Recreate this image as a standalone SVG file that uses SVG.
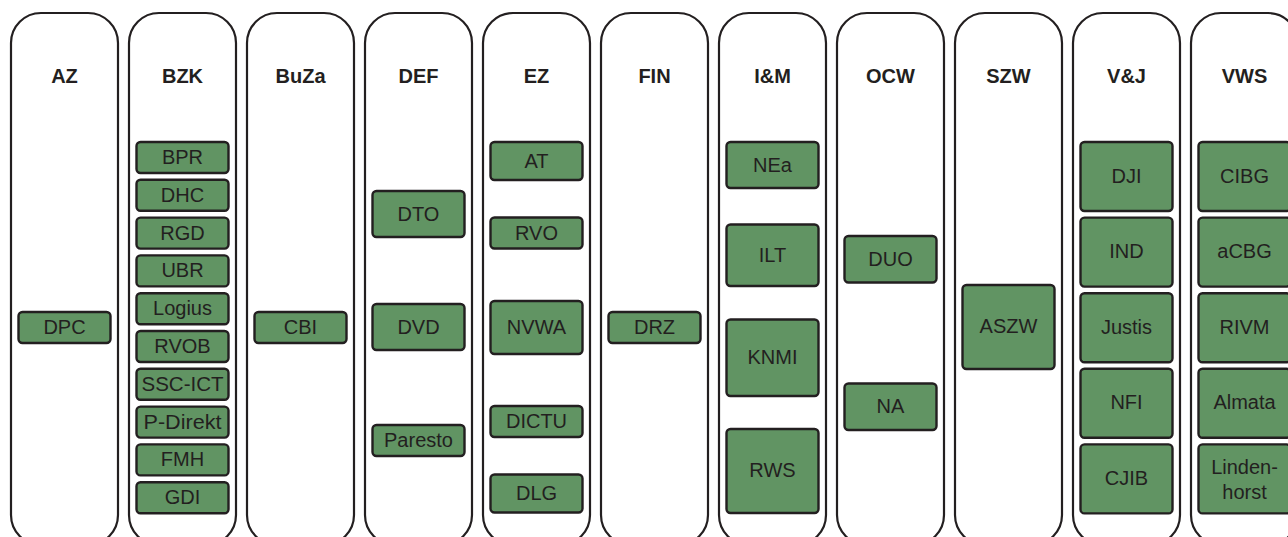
<svg xmlns="http://www.w3.org/2000/svg" width="1288" height="537" viewBox="0 0 1288 537">
<style>
.col{fill:#fff;stroke:#231f20;stroke-width:2.2}
.box{fill:#619463;stroke:#231f20;stroke-width:2.4}
.t{font-family:"Liberation Sans",Arial,sans-serif;font-weight:bold;font-size:20px;fill:#231f20;text-anchor:middle}
.b{font-family:"Liberation Sans",Arial,sans-serif;font-size:20px;fill:#231f20;text-anchor:middle}
</style>
<rect width="1288" height="537" fill="#fff"/>
<g id="connectors"/>
<g id="AZ">
<rect class="col" x="11" y="13" width="107" height="532" rx="30"/>
<text class="t" x="64.5" y="83">AZ</text>
<g id="DPC"><rect class="box" x="18.5" y="312" width="92" height="31" rx="4"/><text class="b" x="64.5" y="334">DPC</text></g>
</g>
<g id="BZK">
<rect class="col" x="129" y="13" width="107" height="532" rx="30"/>
<text class="t" x="182.5" y="83">BZK</text>
<g id="BPR"><rect class="box" x="136.5" y="142" width="92" height="31" rx="4"/><text class="b" x="182.5" y="164">BPR</text></g>
<g id="DHC"><rect class="box" x="136.5" y="179.8" width="92" height="31" rx="4"/><text class="b" x="182.5" y="201.8">DHC</text></g>
<g id="RGD"><rect class="box" x="136.5" y="217.6" width="92" height="31" rx="4"/><text class="b" x="182.5" y="239.6">RGD</text></g>
<g id="UBR"><rect class="box" x="136.5" y="255.4" width="92" height="31" rx="4"/><text class="b" x="182.5" y="277.4">UBR</text></g>
<g id="Logius"><rect class="box" x="136.5" y="293.2" width="92" height="31" rx="4"/><text class="b" x="182.5" y="315.2">Logius</text></g>
<g id="RVOB"><rect class="box" x="136.5" y="331" width="92" height="31" rx="4"/><text class="b" x="182.5" y="353">RVOB</text></g>
<g id="SSC-ICT"><rect class="box" x="136.5" y="368.8" width="92" height="31" rx="4"/><text class="b" x="182.5" y="390.8" textLength="82" lengthAdjust="spacingAndGlyphs">SSC-ICT</text></g>
<g id="P-Direkt"><rect class="box" x="136.5" y="406.6" width="92" height="31" rx="4"/><text class="b" x="182.5" y="428.6" textLength="78" lengthAdjust="spacingAndGlyphs">P-Direkt</text></g>
<g id="FMH"><rect class="box" x="136.5" y="444.4" width="92" height="31" rx="4"/><text class="b" x="182.5" y="466.4">FMH</text></g>
<g id="GDI"><rect class="box" x="136.5" y="482.2" width="92" height="31" rx="4"/><text class="b" x="182.5" y="504.2">GDI</text></g>
</g>
<g id="BuZa">
<rect class="col" x="247" y="13" width="107" height="532" rx="30"/>
<text class="t" x="300.5" y="83">BuZa</text>
<g id="CBI"><rect class="box" x="254.5" y="312" width="92" height="31" rx="4"/><text class="b" x="300.5" y="334">CBI</text></g>
</g>
<g id="DEF">
<rect class="col" x="365" y="13" width="107" height="532" rx="30"/>
<text class="t" x="418.5" y="83">DEF</text>
<g id="DTO"><rect class="box" x="372.5" y="191" width="92" height="46" rx="4"/><text class="b" x="418.5" y="220.5">DTO</text></g>
<g id="DVD"><rect class="box" x="372.5" y="304" width="92" height="46" rx="4"/><text class="b" x="418.5" y="333.5">DVD</text></g>
<g id="Paresto"><rect class="box" x="372.5" y="425" width="92" height="31" rx="4"/><text class="b" x="418.5" y="447">Paresto</text></g>
</g>
<g id="EZ">
<rect class="col" x="483" y="13" width="107" height="532" rx="30"/>
<text class="t" x="536.5" y="83">EZ</text>
<g id="AT"><rect class="box" x="490.5" y="142" width="92" height="38" rx="4"/><text class="b" x="536.5" y="167.5">AT</text></g>
<g id="RVO"><rect class="box" x="490.5" y="217.5" width="92" height="31" rx="4"/><text class="b" x="536.5" y="239.5">RVO</text></g>
<g id="NVWA"><rect class="box" x="490.5" y="301" width="92" height="53" rx="4"/><text class="b" x="536.5" y="334">NVWA</text></g>
<g id="DICTU"><rect class="box" x="490.5" y="406" width="92" height="31" rx="4"/><text class="b" x="536.5" y="428">DICTU</text></g>
<g id="DLG"><rect class="box" x="490.5" y="474.5" width="92" height="38" rx="4"/><text class="b" x="536.5" y="500">DLG</text></g>
</g>
<g id="FIN">
<rect class="col" x="601" y="13" width="107" height="532" rx="30"/>
<text class="t" x="654.5" y="83">FIN</text>
<g id="DRZ"><rect class="box" x="608.5" y="312" width="92" height="31" rx="4"/><text class="b" x="654.5" y="334">DRZ</text></g>
</g>
<g id="IM">
<rect class="col" x="719" y="13" width="107" height="532" rx="30"/>
<text class="t" x="772.5" y="83">I&amp;M</text>
<g id="NEa"><rect class="box" x="726.5" y="142" width="92" height="46" rx="4"/><text class="b" x="772.5" y="171.5">NEa</text></g>
<g id="ILT"><rect class="box" x="726.5" y="224.5" width="92" height="61.5" rx="4"/><text class="b" x="772.5" y="261.5">ILT</text></g>
<g id="KNMI"><rect class="box" x="726.5" y="319.5" width="92" height="76.5" rx="4"/><text class="b" x="772.5" y="364">KNMI</text></g>
<g id="RWS"><rect class="box" x="726.5" y="429" width="92" height="84" rx="4"/><text class="b" x="772.5" y="477">RWS</text></g>
</g>
<g id="OCW">
<rect class="col" x="837" y="13" width="107" height="532" rx="30"/>
<text class="t" x="890.5" y="83">OCW</text>
<g id="DUO"><rect class="box" x="844.5" y="236" width="92" height="46.5" rx="4"/><text class="b" x="890.5" y="265.5">DUO</text></g>
<g id="NA"><rect class="box" x="844.5" y="383.5" width="92" height="46.5" rx="4"/><text class="b" x="890.5" y="413">NA</text></g>
</g>
<g id="SZW">
<rect class="col" x="955" y="13" width="107" height="532" rx="30"/>
<text class="t" x="1008.5" y="83">SZW</text>
<g id="ASZW"><rect class="box" x="962.5" y="285" width="92" height="84" rx="4"/><text class="b" x="1008.5" y="333">ASZW</text></g>
</g>
<g id="VJ">
<rect class="col" x="1073" y="13" width="107" height="532" rx="30"/>
<text class="t" x="1126.5" y="83">V&amp;J</text>
<g id="DJI"><rect class="box" x="1080.5" y="142" width="92" height="69" rx="4"/><text class="b" x="1126.5" y="182.5">DJI</text></g>
<g id="IND"><rect class="box" x="1080.5" y="217.6" width="92" height="69" rx="4"/><text class="b" x="1126.5" y="258.1">IND</text></g>
<g id="Justis"><rect class="box" x="1080.5" y="293.2" width="92" height="69" rx="4"/><text class="b" x="1126.5" y="333.7">Justis</text></g>
<g id="NFI"><rect class="box" x="1080.5" y="368.8" width="92" height="69" rx="4"/><text class="b" x="1126.5" y="409.3">NFI</text></g>
<g id="CJIB"><rect class="box" x="1080.5" y="444.4" width="92" height="69" rx="4"/><text class="b" x="1126.5" y="484.9">CJIB</text></g>
</g>
<g id="VWS">
<rect class="col" x="1191" y="13" width="107" height="532" rx="30"/>
<text class="t" x="1244.5" y="83">VWS</text>
<g id="CIBG"><rect class="box" x="1198.5" y="142" width="92" height="69" rx="4"/><text class="b" x="1244.5" y="182.5">CIBG</text></g>
<g id="aCBG"><rect class="box" x="1198.5" y="217.6" width="92" height="69" rx="4"/><text class="b" x="1244.5" y="258.1">aCBG</text></g>
<g id="RIVM"><rect class="box" x="1198.5" y="293.2" width="92" height="69" rx="4"/><text class="b" x="1244.5" y="333.7">RIVM</text></g>
<g id="Almata"><rect class="box" x="1198.5" y="368.8" width="92" height="69" rx="4"/><text class="b" x="1244.5" y="409.3">Almata</text></g>
<g id="Lindenhorst"><rect class="box" x="1198.5" y="444.4" width="92" height="69" rx="4"/><text class="b" x="1244.5" y="473.5">Linden-</text><text class="b" x="1244.5" y="498.5">horst</text></g>
</g>
</svg>
